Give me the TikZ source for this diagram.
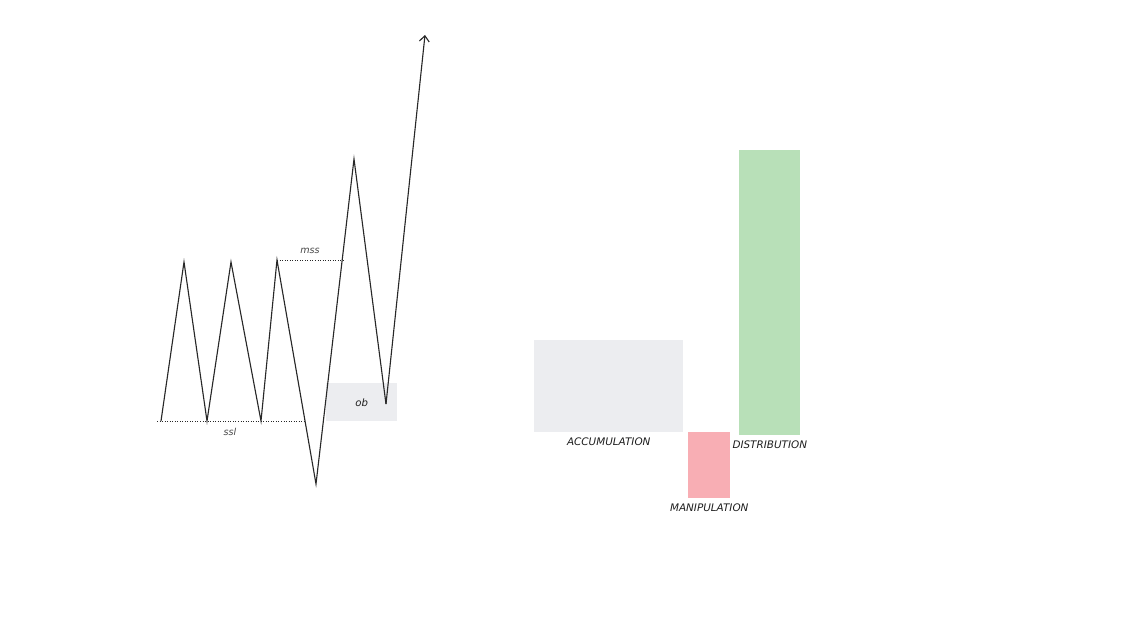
\documentclass[tikz,border=0pt]{standalone}
\usepackage{fontspec}
\setmainfont{DejaVu Sans}
\usetikzlibrary{arrows.meta, positioning}
\definecolor{lineGray}{RGB}{40,40,40}
\definecolor{textGray}{RGB}{70,70,70}
\definecolor{textDark}{RGB}{30,30,30}
\definecolor{boxGray}{RGB}{236,237,240}
\definecolor{boxPink}{RGB}{248,174,180}
\definecolor{boxGreen}{RGB}{184,224,184}

\begin{document}
\begin{tikzpicture}[
        x=0.025cm, y=-0.025cm,
        node distance=0.8cm,
        price/.style={draw=lineGray, line width=0.8pt, line join=miter},
        level/.style={draw=lineGray, line width=0.6pt, dash pattern=on 0.6pt off 1.2pt},
        phase/.style={rectangle, draw=none, inner sep=0pt, anchor=north west},
        tag/.style={font=\fontsize{6.8}{7}\selectfont\itshape, text=textGray, inner sep=1pt},
        phasetag/.style={font=\fontsize{7.4}{8}\selectfont\itshape, text=textDark, inner sep=1pt}
    ]
        \useasboundingbox (0,0) rectangle (1140,644);

        % swing points
        \coordinate (s0) at (161,421);
        \coordinate (h1) at (184,262);
        \coordinate (l1) at (207,421);
        \coordinate (h2) at (231,262);
        \coordinate (l2) at (261,421);
        \coordinate (h3) at (277,260);
        \coordinate (sweep) at (316,484);
        \coordinate (h4) at (354,159);
        \coordinate (l3) at (386,404);
        \coordinate (target) at (425,35);
        \coordinate (sslL) at (157,421);
        \coordinate (sslR) at (304,421);
        \coordinate (mssR) at (343,260);

        % order block
        \node[phase, fill=boxGray, minimum width=1.775cm, minimum height=0.95cm] at (326,383) (ob) {\fontsize{7.2}{8}\selectfont\itshape\color{textDark}ob};

        % liquidity levels
        \draw[level] (sslL) -- (sslR);
        \draw[level] (h3) -- (mssR);
        \node[tag] at (230,432) (ssl) {ssl};
        \node[tag] at (310,251) (mss) {mss};

        % price path
        \draw[price] (s0) -- (h1) -- (l1) -- (h2) -- (l2) -- (h3) -- (sweep) -- (h4) -- (l3);
        \draw[price, -{Straight Barb[length=4pt, width=7pt]}] (l3) -- (target);

        % phases
        \node[phase, fill=boxGray, minimum width=3.725cm, minimum height=2.3cm] at (534,340) (acc) {};
        \node[phase, fill=boxPink, minimum width=1.05cm, minimum height=1.65cm] at (688,432) (manip) {};
        \node[phase, fill=boxGreen, minimum width=1.525cm, minimum height=7.125cm] at (739,150) (dist) {};

        \node[phasetag, below=2.5pt of acc] (accLabel) {ACCUMULATION};
        \node[phasetag, below=2.5pt of manip] (manipLabel) {MANIPULATION};
        \node[phasetag, below=2.5pt of dist] (distLabel) {DISTRIBUTION};
    \end{tikzpicture}
\end{document}
